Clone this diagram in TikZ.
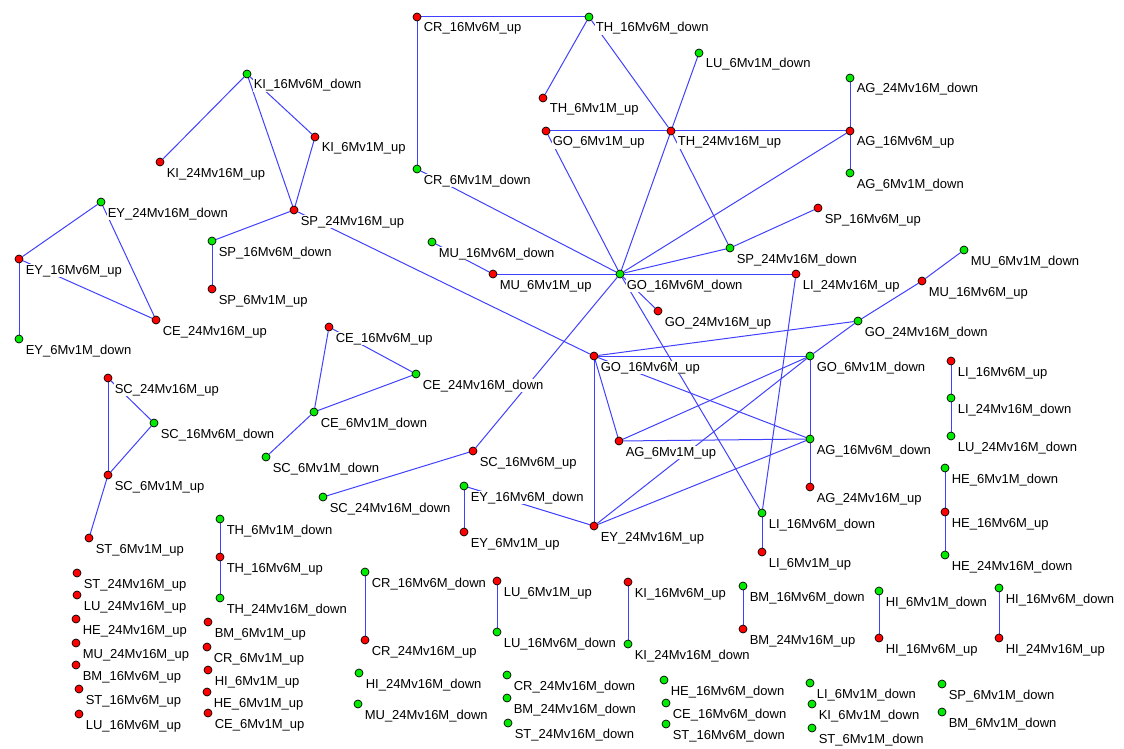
\documentclass[tikz,border=0pt]{standalone}
\usepackage{fontspec}
\setmainfont{Liberation Sans}
\usepackage{tikz}
\usetikzlibrary{backgrounds}

\definecolor{edgeblue}{RGB}{64,64,255}
\definecolor{up}{RGB}{255,0,0}
\definecolor{dn}{RGB}{0,235,0}

\tikzset{
  dot/.style={circle, draw=black, fill=#1, inner sep=0pt, minimum size=8pt, line width=0.7pt},
  lbl/.style={anchor=base west, fill=white, inner sep=0.6pt, font=\fontsize{13}{15}\selectfont},
  link/.style={edgeblue, line width=1pt},
}

\begin{document}
\begin{tikzpicture}[x=1pt, y=-1pt]
    \useasboundingbox (0,0) rectangle (1124,749);

    % genes: name / x / y / direction
    \foreach \nm/\x/\y/\c in {
        KI_16Mv6M_down/247/74/dn, KI_6Mv1M_up/315/137/up, KI_24Mv16M_up/160/162/up,
        SP_24Mv16M_up/294/210/up, EY_24Mv16M_down/101/202/dn, SP_16Mv6M_down/212/241/dn,
        SP_6Mv1M_up/212/289/up, EY_16Mv6M_up/19/259/up, CE_24Mv16M_up/156/320/up,
        EY_6Mv1M_down/19/339/dn, CR_16Mv6M_up/417/17/up, TH_16Mv6M_down/589/17/dn,
        LU_6Mv1M_down/699/53/dn, TH_6Mv1M_up/543/98/up, GO_6Mv1M_up/546/131/up,
        TH_24Mv16M_up/671/131/up, CR_6Mv1M_down/417/169/dn, AG_24Mv16M_down/850/78/dn,
        AG_16Mv6M_up/850/131/up, AG_6Mv1M_down/850/173/dn, SP_16Mv6M_up/818/208/up,
        SP_24Mv16M_down/730/248/dn, MU_16Mv6M_down/432/242/dn, MU_6Mv1M_up/493/274/up,
        GO_16Mv6M_down/620/274/dn, LI_24Mv16M_up/796/274/up, MU_6Mv1M_down/964/250/dn,
        MU_16Mv6M_up/922/281/up, GO_24Mv16M_up/658/311/up, GO_24Mv16M_down/858/321/dn,
        CE_16Mv6M_up/329/327/up, CE_24Mv16M_down/416/374/dn, GO_16Mv6M_up/594/356/up,
        GO_6Mv1M_down/810/356/dn, LI_16Mv6M_up/951/361/up, LI_24Mv16M_down/951/398/dn,
        LU_24Mv16M_down/951/436/dn, SC_24Mv16M_up/108/378/up, SC_16Mv6M_down/154/423/dn,
        CE_6Mv1M_down/314/412/dn, AG_6Mv1M_up/619/441/up, AG_16Mv6M_down/810/439/dn,
        SC_6Mv1M_up/108/475/up, SC_6Mv1M_down/266/457/dn, SC_16Mv6M_up/473/451/up,
        HE_6Mv1M_down/945/468/dn, AG_24Mv16M_up/810/487/up, EY_16Mv6M_down/464/486/dn,
        SC_24Mv16M_down/323/497/dn, HE_16Mv6M_up/945/512/up, EY_24Mv16M_up/594/526/up,
        LI_16Mv6M_down/762/513/dn, EY_6Mv1M_up/464/532/up, ST_6Mv1M_up/89/538/up,
        TH_6Mv1M_down/220/519/dn, TH_16Mv6M_up/220/557/up, TH_24Mv16M_down/220/598/dn,
        LI_6Mv1M_up/762/552/up, HE_24Mv16M_down/945/555/dn,
        CR_16Mv6M_down/365/572/dn, CR_24Mv16M_up/365/640/up,
        LU_6Mv1M_up/497/581/up, LU_16Mv6M_down/497/632/dn,
        KI_16Mv6M_up/628/582/up, KI_24Mv16M_down/628/644/dn,
        BM_16Mv6M_down/743/586/dn, BM_24Mv16M_up/743/629/up,
        HI_6Mv1M_down/879/591/dn, HI_16Mv6M_up/879/638/up,
        HI_16Mv6M_down/999/588/dn, HI_24Mv16M_up/999/638/up,
        % unlinked
        ST_24Mv16M_up/77/573/up, LU_24Mv16M_up/77/595/up, HE_24Mv16M_up/76/619/up,
        MU_24Mv16M_up/76/643/up, BM_16Mv6M_up/76/665/up, ST_16Mv6M_up/79/689/up,
        LU_16Mv6M_up/79/714/up, BM_6Mv1M_up/208/622/up, CR_6Mv1M_up/207/647/up,
        HI_6Mv1M_up/208/670/up, HE_6Mv1M_up/207/692/up, CE_6Mv1M_up/208/713/up,
        HI_24Mv16M_down/359/673/dn, MU_24Mv16M_down/358/704/dn,
        CR_24Mv16M_down/507/675/dn, BM_24Mv16M_down/507/698/dn, ST_24Mv16M_down/508/723/dn,
        HE_16Mv6M_down/664/680/dn, CE_16Mv6M_down/666/703/dn, ST_16Mv6M_down/666/724/dn,
        LI_6Mv1M_down/810/683/dn, KI_6Mv1M_down/812/704/dn, ST_6Mv1M_down/812/728/dn,
        SP_6Mv1M_down/942/684/dn, BM_6Mv1M_down/942/712/dn}
    {
        \node[dot=\c] (\nm) at (\x,\y) {};
        \node[lbl] at (\x+6,\y+15) {\expandafter\detokenize\expandafter{\nm}};
    }

    % links
    \begin{scope}[on background layer]
    \foreach \a/\b in {
        KI_16Mv6M_down/KI_24Mv16M_up, KI_16Mv6M_down/KI_6Mv1M_up, KI_16Mv6M_down/SP_24Mv16M_up,
        KI_6Mv1M_up/SP_24Mv16M_up, SP_24Mv16M_up/SP_16Mv6M_down, SP_16Mv6M_down/SP_6Mv1M_up,
        SP_24Mv16M_up/GO_16Mv6M_up,
        EY_24Mv16M_down/EY_16Mv6M_up, EY_24Mv16M_down/CE_24Mv16M_up,
        EY_16Mv6M_up/CE_24Mv16M_up, EY_16Mv6M_up/EY_6Mv1M_down,
        CR_16Mv6M_up/TH_16Mv6M_down, CR_16Mv6M_up/CR_6Mv1M_down,
        TH_16Mv6M_down/TH_6Mv1M_up, TH_16Mv6M_down/TH_24Mv16M_up,
        LU_6Mv1M_down/TH_24Mv16M_up, GO_6Mv1M_up/TH_24Mv16M_up,
        TH_24Mv16M_up/AG_16Mv6M_up, AG_16Mv6M_up/AG_24Mv16M_down, AG_16Mv6M_up/AG_6Mv1M_down,
        CR_6Mv1M_down/GO_16Mv6M_down, GO_6Mv1M_up/GO_16Mv6M_down,
        TH_24Mv16M_up/GO_16Mv6M_down, TH_24Mv16M_up/SP_24Mv16M_down,
        AG_16Mv6M_up/GO_16Mv6M_down, SP_16Mv6M_up/SP_24Mv16M_down,
        SP_24Mv16M_down/GO_16Mv6M_down, MU_16Mv6M_down/MU_6Mv1M_up,
        MU_6Mv1M_up/GO_16Mv6M_down, GO_16Mv6M_down/LI_24Mv16M_up,
        GO_16Mv6M_down/GO_24Mv16M_up, GO_16Mv6M_down/SC_16Mv6M_up,
        GO_16Mv6M_down/LI_16Mv6M_down, LI_24Mv16M_up/LI_16Mv6M_down,
        LI_16Mv6M_down/LI_6Mv1M_up,
        MU_6Mv1M_down/MU_16Mv6M_up, MU_16Mv6M_up/GO_24Mv16M_down,
        GO_24Mv16M_down/GO_6Mv1M_down, GO_24Mv16M_down/GO_16Mv6M_up,
        GO_16Mv6M_up/GO_6Mv1M_down, GO_16Mv6M_up/AG_6Mv1M_up,
        GO_16Mv6M_up/EY_24Mv16M_up, GO_16Mv6M_up/AG_16Mv6M_down,
        AG_6Mv1M_up/GO_6Mv1M_down, AG_6Mv1M_up/AG_16Mv6M_down,
        GO_6Mv1M_down/AG_16Mv6M_down, AG_16Mv6M_down/AG_24Mv16M_up,
        EY_24Mv16M_up/GO_6Mv1M_down, EY_24Mv16M_up/AG_16Mv6M_down,
        EY_24Mv16M_up/EY_16Mv6M_down, EY_16Mv6M_down/EY_6Mv1M_up,
        SC_16Mv6M_up/SC_24Mv16M_down,
        CE_16Mv6M_up/CE_24Mv16M_down, CE_16Mv6M_up/CE_6Mv1M_down,
        CE_24Mv16M_down/CE_6Mv1M_down, CE_6Mv1M_down/SC_6Mv1M_down,
        SC_24Mv16M_up/SC_16Mv6M_down, SC_24Mv16M_up/SC_6Mv1M_up,
        SC_16Mv6M_down/SC_6Mv1M_up, SC_6Mv1M_up/ST_6Mv1M_up,
        TH_6Mv1M_down/TH_16Mv6M_up, TH_16Mv6M_up/TH_24Mv16M_down,
        CR_16Mv6M_down/CR_24Mv16M_up, LU_6Mv1M_up/LU_16Mv6M_down,
        KI_16Mv6M_up/KI_24Mv16M_down, BM_16Mv6M_down/BM_24Mv16M_up,
        HI_6Mv1M_down/HI_16Mv6M_up, HI_16Mv6M_down/HI_24Mv16M_up,
        LI_16Mv6M_up/LI_24Mv16M_down, LI_24Mv16M_down/LU_24Mv16M_down,
        HE_6Mv1M_down/HE_16Mv6M_up, HE_16Mv6M_up/HE_24Mv16M_down}
        \draw[link] (\a) -- (\b);
    \end{scope}
\end{tikzpicture}
\end{document}
